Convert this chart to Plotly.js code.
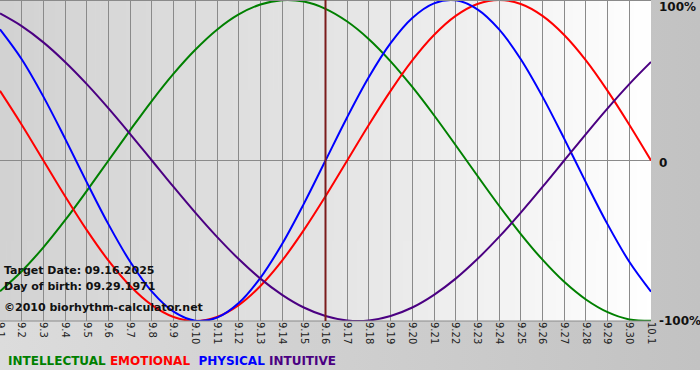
<!DOCTYPE html>
<html>
<head>
<meta charset="utf-8">
<script src="https://cdn.plot.ly/plotly-3.0.1.min.js"></script>
<style>
  html, body { margin: 0; padding: 0; }
  body { width: 700px; height: 380px; overflow: hidden;
         background: linear-gradient(to bottom, transparent 0, transparent 370px, #ffffff 370px),
                     linear-gradient(to right, #dcdcdc, #c2c2c2); }
  #chart { width: 700px; height: 380px; }
</style>
</head>
<body>
<div id="chart"></div>
<script>
// ---- data ----
var days = ['9.1','9.2','9.3','9.4','9.5','9.6','9.7','9.8','9.9','9.10',
            '9.11','9.12','9.13','9.14','9.15','9.16','9.17','9.18','9.19','9.20',
            '9.21','9.22','9.23','9.24','9.25','9.26','9.27','9.28','9.29','9.30','10.1'];

var intellectual = [-0.815,-0.690,-0.541,-0.372,-0.189,0.000,0.189,0.372,0.541,0.690,
                    0.815,0.910,0.972,0.999,0.990,0.945,0.866,0.756,0.618,0.458,
                    0.282,0.095,-0.095,-0.282,-0.458,-0.618,-0.756,-0.866,-0.945,-0.990,-0.999];

var emotional = [0.434,0.223,0.000,-0.223,-0.434,-0.624,-0.782,-0.901,-0.975,-1.000,
                 -0.975,-0.901,-0.782,-0.624,-0.434,-0.223,0.000,0.223,0.434,0.624,
                 0.782,0.901,0.975,1.000,0.975,0.901,0.782,0.624,0.434,0.223,0.000];

var physical = [0.817,0.631,0.398,0.136,-0.136,-0.398,-0.631,-0.817,-0.942,-0.998,
                -0.979,-0.888,-0.731,-0.520,-0.270,0.000,0.270,0.520,0.731,0.888,
                0.979,0.998,0.942,0.817,0.631,0.398,0.136,-0.136,-0.398,-0.631,-0.817];

var intuitive = [0.916,0.837,0.736,0.614,0.476,0.325,0.165,0.000,-0.165,-0.325,
                 -0.476,-0.614,-0.736,-0.837,-0.916,-0.969,-0.997,-0.997,-0.969,-0.916,
                 -0.837,-0.736,-0.614,-0.476,-0.325,-0.165,0.000,0.165,0.325,0.476,0.614];

var targetDay = '9.16';
var targetDate = '09.16.2025';
var birthDate = '09.29.1971';
var yTickVals = [1, 0, -1];
var yTickText = ['100%', '0', '-100%'];

// ---- styling ----
var colors = { intellectual: '#008000', emotional: '#ff0000', physical: '#0000ff', intuitive: '#4b0082' };

// gradient image for the plot background
var cv = document.createElement('canvas');
cv.width = 256; cv.height = 2;
var cx = cv.getContext('2d');
var g = cx.createLinearGradient(0, 0, 256, 0);
g.addColorStop(0, '#d2d2d2');
g.addColorStop(0.5, '#e4e4e4');
g.addColorStop(0.92, '#fbfbfb');
g.addColorStop(1, '#ffffff');
cx.fillStyle = g; cx.fillRect(0, 0, 256, 2);
var bgUrl = cv.toDataURL();

function line(name, ys, color) {
  return { type: 'scatter', mode: 'lines', name: name, x: days, y: ys,
           line: { color: color, width: 2, shape: 'spline', smoothing: 1 },
           hoverinfo: 'skip', showlegend: false };
}

var traces = [
  line('INTELLECTUAL', intellectual, colors.intellectual),
  line('EMOTIONAL', emotional, colors.emotional),
  line('PHYSICAL', physical, colors.physical),
  line('INTUITIVE', intuitive, colors.intuitive)
];

var fam = 'DejaVu Sans, Verdana, sans-serif';
var txtFont = { family: fam, size: 11, color: '#111' };

var annotations = [
  { xref: 'paper', yref: 'y', x: 0.003, y: -0.688, xanchor: 'left', yanchor: 'middle', showarrow: false,
    text: '<b>Target Date: ' + targetDate + '</b>', font: txtFont },
  { xref: 'paper', yref: 'y', x: 0.003, y: -0.782, xanchor: 'left', yanchor: 'middle', showarrow: false,
    text: '<b>Day of birth: ' + birthDate + '</b>', font: txtFont },
  { xref: 'paper', yref: 'y', x: 0.003, y: -0.913, xanchor: 'left', yanchor: 'middle', showarrow: false,
    text: '<b>©2010 biorhythm-calculator.net</b>', font: txtFont },
  { xref: 'paper', yref: 'paper', x: 0.009, y: -0.125, xanchor: 'left', yanchor: 'middle', showarrow: false,
    text: '<b><span style="color:' + colors.intellectual + '">INTELLECTUAL</span> ' +
          '<span style="color:' + colors.emotional + '">EMOTIONAL</span>  ' +
          '<span style="color:' + colors.physical + '">PHYSICAL</span> ' +
          '<span style="color:' + colors.intuitive + '">INTUITIVE</span></b>',
    font: { family: fam, size: 12 } }
];
// right-hand percentage labels
annotations.push({ xref: 'paper', yref: 'y', x: 1, y: yTickVals[0], xanchor: 'left', yanchor: 'top', xshift: 6, yshift: 2,
  showarrow: false, text: '<b>' + yTickText[0] + '</b>', font: { family: fam, size: 12, color: '#111' } });
annotations.push({ xref: 'paper', yref: 'y', x: 1, y: yTickVals[1], xanchor: 'left', yanchor: 'middle', xshift: 6, yshift: -2,
  showarrow: false, text: '<b>' + yTickText[1] + '</b>', font: { family: fam, size: 12, color: '#111' } });
annotations.push({ xref: 'paper', yref: 'y', x: 1, y: yTickVals[2], xanchor: 'left', yanchor: 'middle', xshift: 6,
  showarrow: false, text: '<b>' + yTickText[2] + '</b>', font: { family: fam, size: 12, color: '#111' } });

var targetIdx = days.indexOf(targetDay);

var layout = {
  width: 700, height: 380,
  margin: { l: 0, r: 49, t: 0, b: 59, pad: 0 },
  paper_bgcolor: 'rgba(0,0,0,0)',
  plot_bgcolor: 'rgba(0,0,0,0)',
  showlegend: false,
  xaxis: {
    type: 'category', range: [0, days.length - 1],
    tickvals: days, ticktext: days, tickangle: 90,
    tickfont: { family: fam, size: 10, color: '#222' },
    showgrid: true, gridcolor: '#8a8a8a', gridwidth: 1,
    showline: false, zeroline: false, ticks: '', fixedrange: true
  },
  yaxis: {
    range: [-1.0, 1.0], showticklabels: false,
    showgrid: false, zeroline: true, zerolinecolor: '#8a8a8a', zerolinewidth: 1,
    showline: false, ticks: '', fixedrange: true
  },
  images: [{ source: bgUrl, xref: 'paper', yref: 'paper', x: 0, y: 1, sizex: 1, sizey: 1,
             sizing: 'stretch', layer: 'below', xanchor: 'left', yanchor: 'top' }],
  shapes: [
    { type: 'line', xref: 'paper', yref: 'paper', x0: 0, x1: 1, y0: 1, y1: 1, line: { color: '#8a8a8a', width: 2 } },
    { type: 'line', xref: 'paper', yref: 'paper', x0: 0, x1: 1, y0: 0, y1: 0, line: { color: '#8a8a8a', width: 1 } },
    { type: 'line', xref: 'x', yref: 'paper', x0: targetIdx, x1: targetIdx, y0: 0, y1: 1,
      line: { color: '#7b1c1c', width: 2 }, layer: 'above' }
  ],
  annotations: annotations
};

Plotly.newPlot('chart', traces, layout, { staticPlot: true, displayModeBar: false });
</script>
</body>
</html>
